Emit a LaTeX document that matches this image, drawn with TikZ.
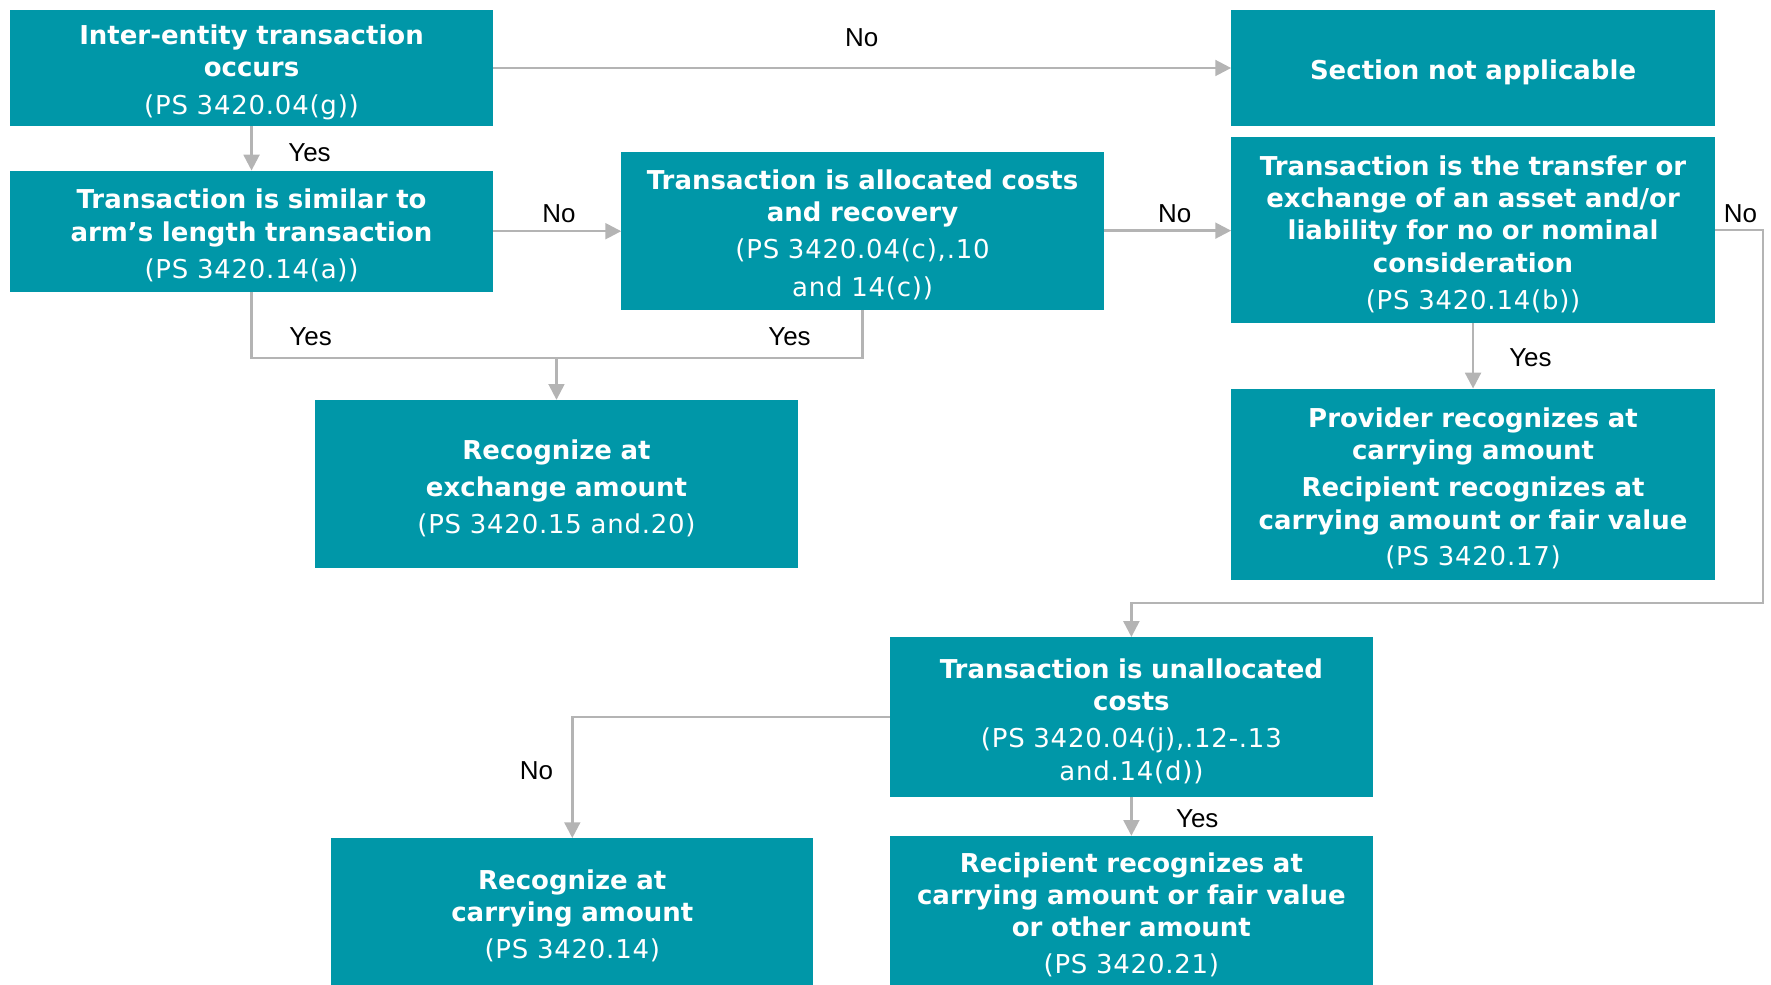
\documentclass[tikz,border=0pt]{standalone}
\usepackage{fontspec}
\setmainfont{DejaVu Sans}
\newfontfamily\reffont{DejaVu Sans}[LetterSpace=3]
\newfontfamily\lblfont{Liberation Sans}
\usetikzlibrary{arrows.meta}
\definecolor{boxteal}{RGB}{0,151,168}
\definecolor{linegray}{RGB}{180,180,180}
\begin{document}
\begin{tikzpicture}[x=1pt,y=-1pt,
  box/.style={fill=boxteal, text=white, inner sep=0pt, anchor=north west,
    text width=420pt, align=center, minimum width=427pt,
    font=\fontsize{23}{28.5}\selectfont,
    execute at begin node={\rule{0pt}{25pt}}},
  lbl/.style={inner sep=0pt, text=black, font=\lblfont\fontsize{23}{26}\selectfont},
  conn/.style={draw=linegray, line width=2.2pt},
  arr/.style={conn, -{Triangle[length=14pt,width=14pt]}}]
\useasboundingbox (0,0) rectangle (1568,872);

\node[box, minimum height=102pt] (A) at (9,9)
  {{\bfseries Inter-entity transaction\\occurs}\\[4.5pt]{\reffont (PS 3420.04(g))}};
\node[box, minimum height=102pt, minimum width=428pt] (B) at (1090,9)
  {{\bfseries Section not applicable}};
\node[box, minimum height=107pt] (C) at (9,151)
  {{\bfseries Transaction is similar to\\arm’s length transaction}\\[4.5pt]{\reffont (PS 3420.14(a))}};
\node[box, minimum height=140pt] (D) at (550,134)
  {{\bfseries Transaction is allocated costs\\and recovery}\\[4pt]{\reffont (PS 3420.04(c),.10\\[5pt]and 14(c))}};
\node[box, minimum height=165pt, minimum width=428pt] (E) at (1090,121)
  {{\bfseries Transaction is the transfer or\\exchange of an asset and/or\\liability for no or nominal\\consideration}\\[4.5pt]{\reffont (PS 3420.14(b))}};
\node[box, minimum height=149pt] (F) at (279,354)
  {{\bfseries Recognize at\\[4.5pt]exchange amount}\\[4.5pt]{\reffont (PS 3420.15 and.20)}};
\node[box, minimum height=169pt, minimum width=428pt] (G) at (1090,344)
  {{\bfseries Provider recognizes at\\carrying amount\\[4.5pt]Recipient recognizes at\\carrying amount or fair value}\\[4pt]{\reffont (PS 3420.17)}};
\node[box, minimum height=141pt] (H) at (788,564)
  {{\bfseries Transaction is unallocated\\costs}\\[4.5pt]{\reffont (PS 3420.04(j),.12-.13\\and.14(d))}};
\node[box, minimum height=130pt] (I) at (293,742)
  {{\bfseries Recognize at\\carrying amount}\\[4.5pt]{\reffont (PS 3420.14)}};
\node[box, minimum height=132pt] (J) at (788,740)
  {{\bfseries Recipient recognizes at\\carrying amount or fair value\\or other amount}\\[4pt]{\reffont (PS 3420.21)}};

% connectors
\draw[arr] (A.east) -- (B.west);
\draw[arr] (A.south) -- (C.north);
\draw[arr] (C.east) -- (C.east -| D.west);
\draw[arr] (D.east) -- (D.east -| E.west);
\coordinate (jn) at (0,317);
\draw[conn] (C.south) |- (D.south |- jn) -- (D.south);
\draw[arr] (F.north |- jn) -- (F.north);
\draw[arr] (E.south) -- (G.north);
\coordinate (er) at (1561,534);
\draw[arr] (E.east) -| (er) -| (H.north);
\draw[arr] (H.west) -| (I.north);
\draw[arr] (H.south) -- (J.north);

% labels
\node[lbl] (l1) at (763,33) {No};
\node[lbl] (l2) at (274,135) {Yes};
\node[lbl] (l3) at (495,189) {No};
\node[lbl] (l4) at (1040,189) {No};
\node[lbl] (l5) at (275,298) {Yes};
\node[lbl] (l6) at (699,298) {Yes};
\node[lbl] (l7) at (1355,317) {Yes};
\node[lbl] (l8) at (1541,189) {No};
\node[lbl] (l9) at (475,682) {No};
\node[lbl] (l10) at (1060,725) {Yes};
\end{tikzpicture}
\end{document}
